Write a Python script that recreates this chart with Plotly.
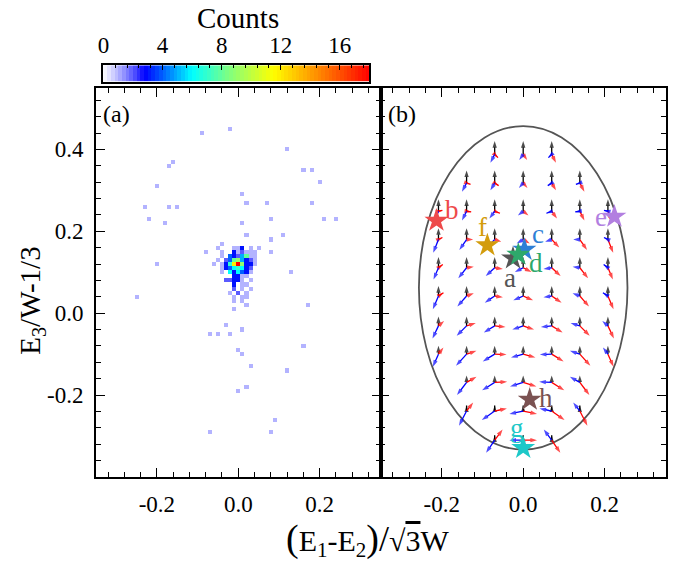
import plotly.graph_objects as go

SERIF = "Liberation Serif"

# ---------------- (a) histogram of counts, bins of 0.01 x 0.01 ----------------
# bin index along each axis, in units of 0.01, and the count in that bin
CELL_X = [
    -9, -2, 12, -17, -16, 16, 18, 20, -20, 1, -23, -17, -15, 2, 7, 18,
    -22, -18, 1, 8, 21, 24, 2, 11, 8, -20, -8, 8, 13, -25, 17,
    -7, -5, -2, 1, -3, 16, 0, 1, 3, 12, 2, 0, 9, -7, 8,
    -4,
    -5, -1, 0, 1, 3, 5,
    -4, -1, 0, 1, 2, 3, 4,
    -4, -2, -1, 0, 1, 2, 3, 4,
    -5, -3, -2, -1, 0, 1, 2, 3, 4,
    -6, -4, -3, -2, -1, 0, 1, 2, 3, 4,
    -4, -3, -2, -1, 0, 1, 2, 3,
    -4, -2, -1, 0, 1, 2, 3,
    -1, 0, 1, 2,
    -3, -2, -1, 0, 1, 3,
    -1, 1, 2,
    -1, 1, 3,
    -2, 0, 2,
    -1, 1, 2,
    -1, 1,
    2,
    -1,
]
CELL_Y = [
    44, 45, 40, 36, 37, 35, 35, 32, 31, 29, 26, 26, 26, 27, 27, 27,
    23, 22, 22, 23, 23, 23, 19, 19, 18, 12, 15, 15, 10, 4, 2,
    -5, -5, -5, -4, -3, -8, -9, -10, -13, -14, -18, -19, -26, -29, -29,
    17,
    16, 16, 16, 16, 16, 16,
    15, 15, 15, 15, 15, 15, 15,
    14, 14, 14, 14, 14, 14, 14, 14,
    13, 13, 13, 13, 13, 13, 13, 13, 13,
    12, 12, 12, 12, 12, 12, 12, 12, 12, 12,
    11, 11, 11, 11, 11, 11, 11, 11,
    10, 10, 10, 10, 10, 10, 10,
    9, 9, 9, 9,
    8, 8, 8, 8, 8, 8,
    7, 7, 7,
    6, 6, 6,
    5, 5, 5,
    4, 4, 4,
    3, 3,
    2,
    1,
]
CELL_N = [
    1, 1, 1, 1, 1, 1, 1, 1, 1, 1, 1, 1, 1, 1, 1, 1,
    1, 1, 1, 1, 1, 1, 1, 1, 1, 1, 1, 1, 1, 1, 1,
    1, 1, 1, 1, 1, 1, 1, 1, 1, 1, 1, 1, 1, 1, 1,
    1,
    1, 1, 1, 3, 1, 1,
    1, 3, 1, 2, 1, 1, 1,
    1, 4, 3, 2, 5, 8, 1, 1,
    1, 2, 4, 8, 9, 5, 3, 2, 1,
    1, 1, 3, 7, 12, 18, 9, 3, 3, 1,
    1, 3, 4, 6, 7, 6, 3, 2,
    1, 6, 3, 6, 4, 3, 1,
    3, 3, 1, 1,
    2, 2, 3, 3, 1, 1,
    3, 1, 1,
    2, 1, 1,
    1, 2, 1,
    1, 1, 1,
    1, 1,
    1,
    1,
]

COUNT_MAX = 18
CB_TICKS = [0, 4, 8, 12, 16]
CB_TICKTEXT = ["0", "4", "8", "12", "16"]

# ---------------- (b) vector field inside the ellipse ----------------
FIELD_ROW_Y = [0.388, 0.318, 0.249, 0.180, 0.111, 0.042,
               -0.031, -0.100, -0.169, -0.239, -0.310]
C3, C2, C1 = 0.208, 0.139, 0.070
FIELD_ROW_X = [
    [-C1, 0.0, C1],
    [-C2, -C1, 0.0, C1, C2],
    [-C3, -C2, -C1, 0.0, C1, C2, C3],
    [-C3, -C2, -C1, 0.0, C1, C2, C3],
    [-C3, -C2, -C1, 0.0, C1, C2, C3],
    [-C3, -C2, -C1, 0.0, C1, C2, C3],
    [-C3, -C2, -C1, 0.0, C1, C2, C3],
    [-C3, -C2, -C1, 0.0, C1, C2, C3],
    [-C2, -C1, 0.0, C1, C2],
    [-C2, -C1, 0.0, C1, C2],
    [-C1, 0.0, C1],
]
# vertical (black) vector length per row, units of 1e-3
BLACK_V = [32.4, 30.8, 29.2, 27.6, 26.0, 24.3, 22.7, 20.3, 17.0, 13.8, 12.0]
# red and blue vector components, units of 1e-3
RED_U = [
    [8.1, 9.7, 10.5],
    [9.7, 9.7, 10.5, 10.5, 11.3],
    [9.7, 11.3, 13.0, 13.0, 13.0, 11.3, 9.7],
    [9.7, 16.2, 16.2, 16.2, 18.6, 17.8, 13.0],
    [10.5, 17.8, 20.3, 20.3, 21.9, 20.3, 12.2],
    [12.2, 17.8, 20.3, 24.3, 24.3, 22.7, 13.8],
    [13.8, 22.7, 26.7, 26.7, 26.7, 24.3, 14.6],
    [12.2, 24.3, 29.2, 30.0, 29.2, 25.9, 13.8],
    [24.3, 30.8, 32.4, 30.8, 23.5],
    [16.2, 30.0, 34.0, 31.6, 18.6],
    [19.4, 34.0, 21.1],
]
RED_V = [
    [-8.1, -13.8, -20.3],
    [-3.2, -6.5, -12.2, -17.8, -21.1],
    [2.4, -1.6, -4.9, -10.5, -17.8, -22.7, -25.9],
    [4.9, 0.0, -5.7, -9.7, -19.4, -25.9, -32.4],
    [8.1, 2.4, -3.2, -10.5, -20.3, -25.9, -28.4],
    [8.1, 6.5, -3.2, -10.5, -16.2, -25.9, -32.4],
    [12.2, 7.3, -2.4, -8.9, -16.2, -24.3, -30.8],
    [16.2, 8.1, -0.8, -8.1, -17.8, -28.4, -30.8],
    [13.8, 1.6, -9.7, -19.4, -30.8],
    [21.1, 6.5, -7.3, -21.9, -35.6],
    [25.9, 0.0, -30.8],
]
BLUE_U = [
    [-10.5, -9.7, -8.1],
    [-11.3, -10.5, -10.5, -9.7, -9.7],
    [-9.7, -11.3, -13.0, -13.0, -13.0, -11.3, -9.7],
    [-13.0, -17.8, -18.6, -16.2, -16.2, -16.2, -9.7],
    [-12.2, -20.3, -21.9, -20.3, -20.3, -17.8, -10.5],
    [-13.8, -22.7, -24.3, -24.3, -20.3, -17.8, -12.2],
    [-14.6, -24.3, -26.7, -26.7, -26.7, -22.7, -13.8],
    [-13.8, -25.9, -29.2, -30.0, -29.2, -24.3, -12.2],
    [-23.5, -30.8, -32.4, -30.8, -24.3],
    [-18.6, -31.6, -34.0, -30.0, -16.2],
    [-21.1, -34.0, -19.4],
]
BLUE_V = [
    [-20.3, -13.8, -8.1],
    [-21.1, -17.8, -12.2, -6.5, -3.2],
    [-25.9, -22.7, -17.8, -10.5, -4.9, -1.6, 2.4],
    [-32.4, -25.9, -19.4, -9.7, -5.7, 0.0, 4.9],
    [-28.4, -25.9, -20.3, -10.5, -3.2, 2.4, 8.1],
    [-32.4, -25.9, -16.2, -10.5, -3.2, 6.5, 8.1],
    [-30.8, -24.3, -16.2, -8.9, -2.4, 7.3, 12.2],
    [-30.8, -28.4, -17.8, -8.1, -0.8, 8.1, 16.2],
    [-30.8, -19.4, -9.7, 1.6, 13.8],
    [-35.6, -21.9, -7.3, 6.5, 21.1],
    [-30.8, 0.0, 25.9],
]

# boundary ellipse (x extent, y extent)
ELLIPSE_X = (-0.256, 0.256)
ELLIPSE_Y = (-0.333, 0.457)

# marked states
STAR_NAMES = ["a", "c", "d", "b", "e", "f", "g", "h"]
STAR_X = [-0.025, 0.003, -0.012, -0.213, 0.224, -0.088, 0.000, 0.016]
STAR_Y = [0.134, 0.155, 0.143, 0.226, 0.236, 0.166, -0.329, -0.211]
STAR_COLORS = ["#555555", "#2f7fd6", "#2ea86b", "#ee4a4a",
               "#b27fe0", "#d39c0c", "#1ec8c8", "#7b5252"]
LABEL_X = [-0.033, 0.036, 0.032, -0.174, 0.190, -0.099, -0.016, 0.057]
LABEL_Y = [0.085, 0.194, 0.122, 0.253, 0.236, 0.211, -0.280, -0.207]

AX_RANGE_X = [-0.35, 0.35]
AX_RANGE_Y = [-0.40, 0.55]
X_TICKS = [-0.2, 0.0, 0.2]
X_TICKTEXT = ["-0.2", "0.0", "0.2"]
Y_TICKS = [-0.2, 0.0, 0.2, 0.4]
Y_TICKTEXT = ["-0.2", "0.0", "0.2", "0.4"]

# ---------------- build figure ----------------
W, H = 673, 564
fig = go.Figure()

# histogram grid
x_idx = list(range(-35, 36))
y_idx = list(range(-40, 56))
z = [[None] * len(x_idx) for _ in y_idx]
for i, j, n in zip(CELL_X, CELL_Y, CELL_N):
    z[j - y_idx[0]][i - x_idx[0]] = n

colorscale = [
    [0.0, "#ffffff"],
    [1 / 18, "#b3b3ff"],
    [2 / 18, "#5a5aff"],
    [2.8 / 18, "#0000ff"],
    [6.0 / 18, "#00ffff"],
    [8.5 / 18, "#80ff80"],
    [11.5 / 18, "#ffff00"],
    [14.5 / 18, "#ff8c00"],
    [1.0, "#ff0000"],
]

fig.add_trace(go.Heatmap(
    x=[k / 100 for k in x_idx], y=[k / 100 for k in y_idx], z=z,
    zmin=0, zmax=COUNT_MAX, colorscale=colorscale, hoverongaps=False,
    showscale=False, xaxis="x", yaxis="y",
))

# colour bar drawn as a one-row ramp on its own small axes
n_steps = 72
ramp_x = [(k + 0.5) * COUNT_MAX / n_steps for k in range(n_steps)]
fig.add_trace(go.Heatmap(
    x=ramp_x, y=[0.5], z=[ramp_x], zmin=0, zmax=COUNT_MAX,
    colorscale=colorscale, showscale=False, hoverinfo="skip",
    xaxis="x3", yaxis="y3",
))


def arrow_trace(u_rows, v_rows, color, black=False):
    xs, ys, sizes = [], [], []
    for r, (yy, row_x) in enumerate(zip(FIELD_ROW_Y, FIELD_ROW_X)):
        for c, xx in enumerate(row_x):
            if black:
                u, v = 0.0, BLACK_V[r]
            else:
                u, v = u_rows[r][c], v_rows[r][c]
            xs += [xx, xx + u * 1e-3, None]
            ys += [yy, yy + v * 1e-3, None]
            sizes += [0, 7, 0]
    return go.Scatter(
        x=xs, y=ys, mode="lines+markers", xaxis="x2", yaxis="y2",
        line=dict(color=color, width=1.3),
        marker=dict(symbol="arrow", size=sizes, angleref="previous",
                    color=color, line=dict(width=0)),
        hoverinfo="skip", showlegend=False,
    )


fig.add_trace(arrow_trace(None, None, "#000000", black=True))
fig.add_trace(arrow_trace(RED_U, RED_V, "#ff0000"))
fig.add_trace(arrow_trace(BLUE_U, BLUE_V, "#0000ff"))

fig.add_trace(go.Scatter(
    x=STAR_X, y=STAR_Y, mode="markers", xaxis="x2", yaxis="y2",
    marker=dict(symbol="star", size=18, color=STAR_COLORS, line=dict(width=0)),
    hoverinfo="skip", showlegend=False,
))

fig.add_shape(type="circle", xref="x2", yref="y2",
              x0=ELLIPSE_X[0], x1=ELLIPSE_X[1], y0=ELLIPSE_Y[0], y1=ELLIPSE_Y[1],
              line=dict(color="#555555", width=1.8), layer="below")

annotations = []
for name, lx, ly, col in zip(STAR_NAMES, LABEL_X, LABEL_Y, STAR_COLORS):
    annotations.append(dict(
        x=lx, y=ly, xref="x2", yref="y2", text=name, showarrow=False,
        xanchor="center", yanchor="middle", borderpad=0,
        font=dict(family=SERIF, size=27, color=col)))

annotations += [
    dict(x=96 / W, y=1 - 99 / H, xref="paper", yref="paper", text="(a)",
         showarrow=False, xanchor="left", yanchor="top",
         font=dict(family=SERIF, size=24, color="black")),
    dict(x=383 / W, y=1 - 99 / H, xref="paper", yref="paper", text="(b)",
         showarrow=False, xanchor="left", yanchor="top",
         font=dict(family=SERIF, size=24, color="black")),
    dict(x=234 / W, y=1 - 18 / H, xref="paper", yref="paper", text="Counts",
         showarrow=False, xanchor="center", yanchor="middle", borderpad=0,
         font=dict(family=SERIF, size=29, color="black")),
    dict(x=26 / W, y=1 - 301 / H, xref="paper", yref="paper",
         text="E<sub>3</sub>/W-1/3", textangle=-90,
         showarrow=False, xanchor="center", yanchor="middle",
         font=dict(family=SERIF, size=29, color="black")),
    dict(x=365 / W, y=1 - 539 / H, xref="paper", yref="paper",
         text=('<span style="font-size:38px">(</span>E<sub>1</sub>-E<sub>2</sub>'
               '<span style="font-size:38px">)</span>'
               '<span style="font-size:36px">/</span>'
               '√<span style="text-decoration:overline">3</span>W'),
         showarrow=False, xanchor="center", yanchor="middle", borderpad=0,
         font=dict(family=SERIF, size=30, color="black")),
]

x_dom_a = [90.7 / W, 378 / W]
x_dom_b = [378 / W, 665.7 / W]
y_dom = [1 - 477 / H, 1 - 88 / H]
tick_font = dict(family=SERIF, size=23, color="black")

axis_common = dict(
    showline=True, linecolor="black", linewidth=1.6, mirror="ticks",
    ticks="inside", ticklen=9, tickwidth=1.4, tickcolor="black",
    showgrid=False, zeroline=False, tickfont=tick_font,
    minor=dict(tickmode="linear", tick0=0, dtick=0.04, ticks="inside",
               ticklen=5, tickwidth=1.2, tickcolor="black", showgrid=False),
)

fig.update_layout(
    width=W, height=H, margin=dict(l=0, r=0, t=0, b=0),
    paper_bgcolor="white", plot_bgcolor="white",
    font=dict(family=SERIF, size=23, color="black"),
    showlegend=False,
    xaxis=dict(domain=x_dom_a, range=AX_RANGE_X, anchor="y",
               tickmode="array", tickvals=X_TICKS, ticktext=X_TICKTEXT,
               ticklabelstandoff=6, **axis_common),
    yaxis=dict(domain=y_dom, range=AX_RANGE_Y, anchor="x",
               tickmode="array", tickvals=Y_TICKS, ticktext=Y_TICKTEXT,
               ticklabelstandoff=6, **axis_common),
    xaxis2=dict(domain=x_dom_b, range=AX_RANGE_X, anchor="y2",
                tickmode="array", tickvals=X_TICKS, ticktext=X_TICKTEXT,
                ticklabelstandoff=6, **axis_common),
    yaxis2=dict(domain=y_dom, range=AX_RANGE_Y, anchor="x2",
                tickmode="array", tickvals=Y_TICKS, ticktext=Y_TICKTEXT,
                showticklabels=False, **axis_common),
    xaxis3=dict(domain=[98.3 / W, 366.7 / W], range=[0, COUNT_MAX],
                anchor="y3", side="top", showline=True, linecolor="black",
                linewidth=1.5, mirror=True, showgrid=False, zeroline=False,
                ticks="inside", ticklen=5, tickwidth=1.2, tickcolor="black",
                tickmode="array", tickvals=CB_TICKS, ticktext=CB_TICKTEXT,
                tickfont=tick_font, ticklabelstandoff=1,
                minor=dict(tickmode="linear", tick0=0, dtick=0.8,
                           ticks="inside", ticklen=3, tickwidth=1,
                           tickcolor="black", showgrid=False),
                fixedrange=True),
    yaxis3=dict(domain=[1 - 81.7 / H, 1 - 65.3 / H], range=[0, 1],
                anchor="x3", showline=True, linecolor="black", linewidth=1.5,
                mirror=True, showgrid=False, zeroline=False,
                showticklabels=False, ticks="", fixedrange=True),
    annotations=annotations,
)

fig.write_html("out.html")
